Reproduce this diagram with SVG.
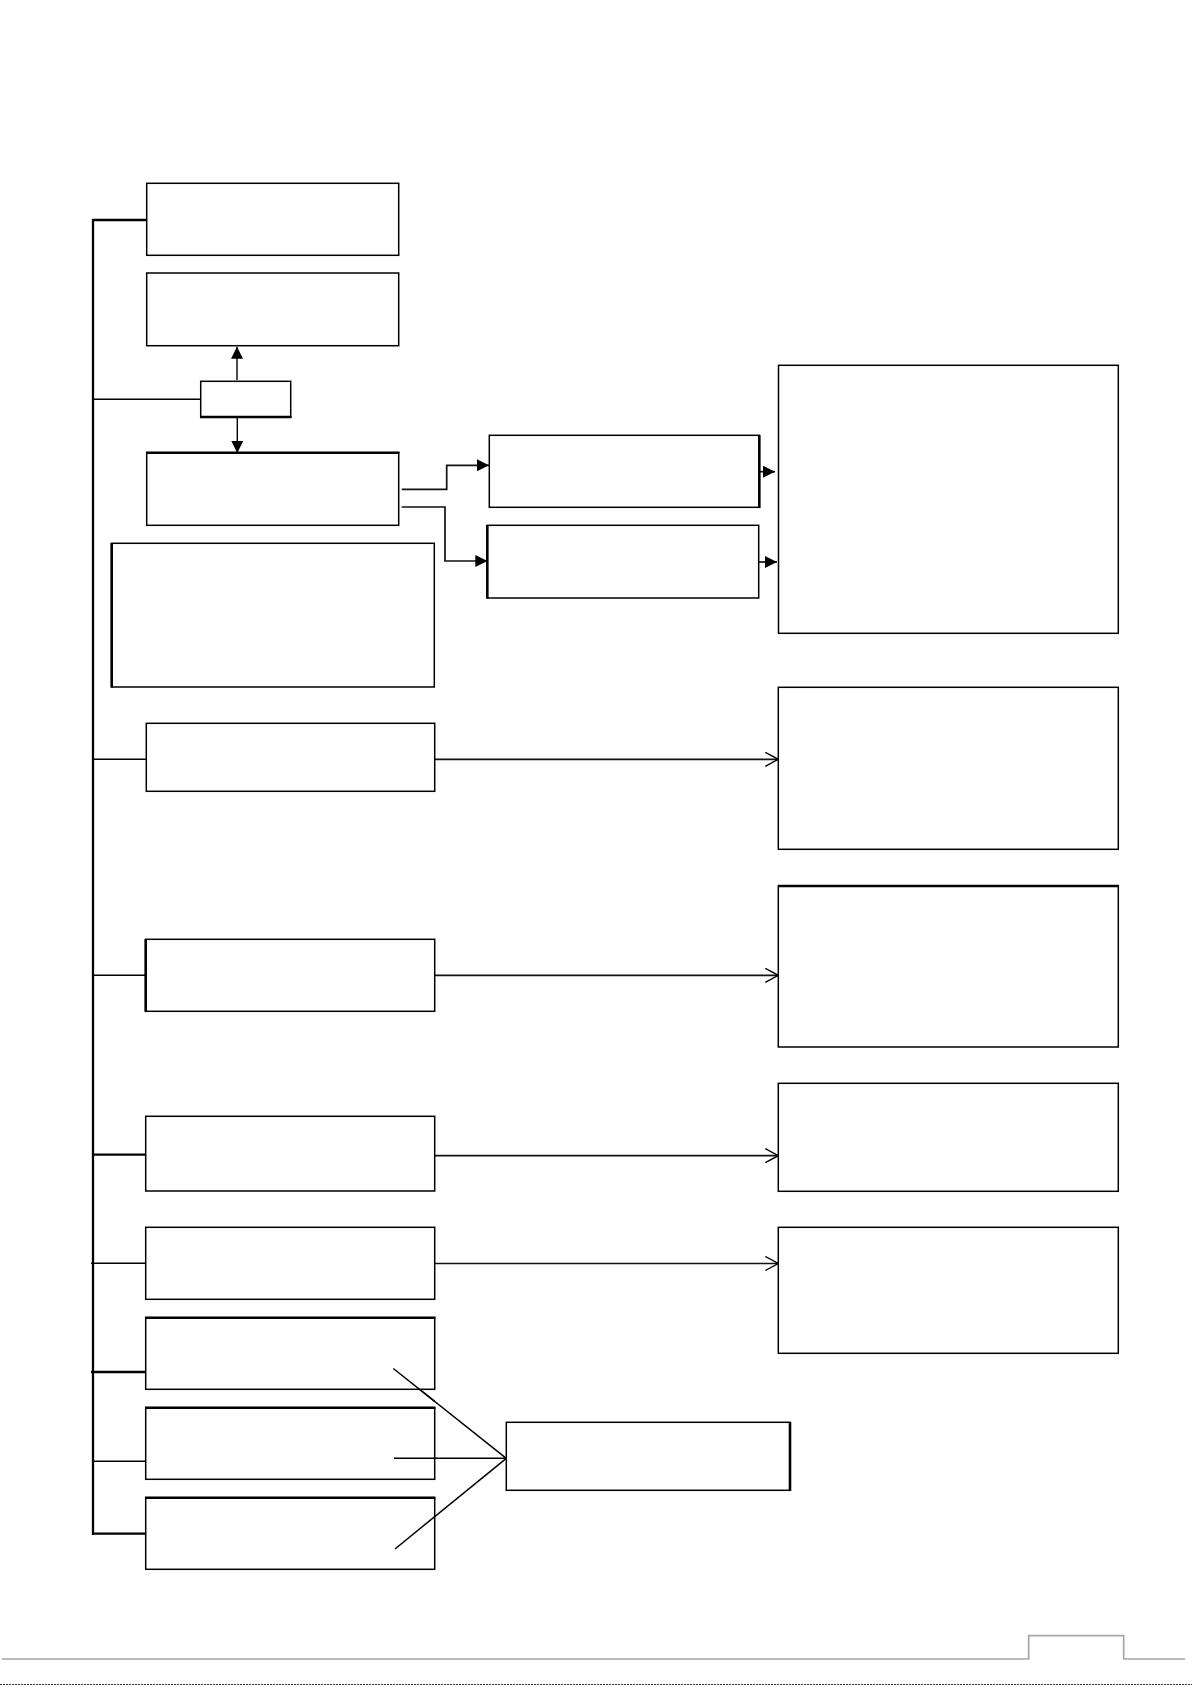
<svg xmlns="http://www.w3.org/2000/svg" width="1192" height="1685" viewBox="0 0 1192 1685">
<style>
.box{fill:#fff;stroke:#000;stroke-width:1.5}
.thick{stroke:#000;stroke-width:2.6;fill:none}
.br{stroke:#000;stroke-width:1.4;fill:none}
.brk{stroke:#000;stroke-width:2.3;fill:none}
.arr{stroke:#111;stroke-width:1.7;fill:none}
.fan{stroke:#000;stroke-width:1.5;fill:none}
.foot{stroke:#a6a6a6;stroke-width:1.7;fill:none}
</style>
<defs>
<marker id="fill" markerUnits="userSpaceOnUse" markerWidth="12" markerHeight="12" refX="12" refY="6" orient="auto">
<path d="M0,0 L12,6 L0,12 z" fill="#000"/>
</marker>
<marker id="open" markerUnits="userSpaceOnUse" markerWidth="16" markerHeight="16" refX="14" refY="8" orient="auto">
<path d="M1,1 L14,8 L1,15" fill="none" stroke="#000" stroke-width="1.4"/>
</marker>
</defs>
<rect width="1192" height="1685" fill="#fff"/>

<g id="connectors">
<line class="brk" x1="93" y1="219" x2="93" y2="1535"/>
<line class="brk" x1="93" y1="220" x2="147" y2="220"/>
<line class="br" x1="93" y1="399.3" x2="200.7" y2="399.3"/>
<line class="br" x1="93" y1="759.3" x2="146.3" y2="759.3"/>
<line class="br" x1="93" y1="975.3" x2="148" y2="975.3"/>
<line class="brk" x1="93" y1="1154.7" x2="148" y2="1154.7"/>
<line class="br" x1="91" y1="1263.3" x2="146" y2="1263.3"/>
<line class="brk" x1="91" y1="1372" x2="146" y2="1372"/>
<line class="br" x1="93" y1="1461.3" x2="146" y2="1461.3"/>
<line class="brk" x1="93" y1="1533.7" x2="146" y2="1533.7"/>

<line class="br" x1="237" y1="380" x2="237" y2="346.7" marker-end="url(#fill)"/>
<line class="br" x1="237.3" y1="417" x2="237.3" y2="453" marker-end="url(#fill)"/>
<path class="arr" d="M401.7,489.3 H446.7 V465.3 H489" marker-end="url(#fill)"/>
<path class="arr" d="M401.7,507 H445 V561 H487.3" marker-end="url(#fill)"/>
<line class="arr" x1="756" y1="471.7" x2="775" y2="471.7" marker-end="url(#fill)"/>
<line class="arr" x1="758.7" y1="562" x2="777" y2="562" marker-end="url(#fill)"/>

<line class="arr" x1="434.7" y1="759.3" x2="778.3" y2="759.3" marker-end="url(#open)"/>
<line class="arr" x1="434.7" y1="975.3" x2="778.3" y2="975.3" marker-end="url(#open)"/>
<line class="arr" x1="434.7" y1="1155.7" x2="778.3" y2="1155.7" marker-end="url(#open)"/>
<line class="arr" x1="434.7" y1="1263.5" x2="778.3" y2="1263.5" marker-end="url(#open)"/>

<line class="fan" x1="393.3" y1="1368.5" x2="506.3" y2="1458.3"/>
<line class="fan" x1="394" y1="1458.3" x2="506.3" y2="1458.3"/>
<line class="fan" x1="395" y1="1549" x2="506.3" y2="1458.3"/>
</g>

<g id="n1"><rect class="box" x="146.7" y="183.3" width="252" height="72"/></g>
<g id="n2"><rect class="box" x="146.7" y="273" width="252" height="72.7" stroke-width="2.4"/></g>
<g id="n3"><rect class="box" x="200.7" y="381.3" width="90" height="35.7"/><line class="thick" x1="200" y1="417" x2="291.5" y2="417"/></g>
<g id="n4"><rect class="box" x="146.7" y="452.7" width="252" height="72.6"/><line class="thick" x1="146" y1="452.7" x2="399.5" y2="452.7"/></g>
<g id="n5"><rect class="box" x="111.7" y="543.3" width="322.6" height="143.7"/><line class="thick" x1="111.7" y1="543" x2="111.7" y2="687.5"/></g>
<g id="n6"><rect class="box" x="489.3" y="435.3" width="270" height="72"/><line class="thick" x1="759.3" y1="435" x2="759.3" y2="508"/></g>
<g id="n7"><rect class="box" x="487.3" y="525.3" width="271.4" height="72.7"/><line class="thick" x1="487.3" y1="525" x2="487.3" y2="598.5"/></g>
<g id="n8"><rect class="box" x="778.5" y="365.3" width="339.8" height="268"/></g>
<g id="n9"><rect class="box" x="146.3" y="723.3" width="288.4" height="68"/></g>
<g id="n10"><rect class="box" x="778.3" y="687.3" width="340" height="162"/></g>
<g id="n11"><rect class="box" x="145.7" y="939.3" width="289" height="72"/><line class="thick" x1="145.7" y1="939" x2="145.7" y2="1011.8"/></g>
<g id="n12"><rect class="box" x="778.3" y="886" width="340" height="161"/><line class="thick" x1="778" y1="886" x2="1119" y2="886"/></g>
<g id="n13"><rect class="box" x="145.7" y="1116.3" width="289" height="74.7"/></g>
<g id="n14"><rect class="box" x="778.3" y="1083.3" width="340" height="108"/></g>
<g id="n15"><rect class="box" x="145.7" y="1227.3" width="289" height="72"/></g>
<g id="n16"><rect class="box" x="778.3" y="1227.3" width="340" height="126"/></g>
<g id="n17"><rect class="box" x="145.7" y="1317.7" width="289" height="71.6"/><line class="thick" x1="145" y1="1317.7" x2="435.4" y2="1317.7"/></g>
<g id="n18"><rect class="box" x="145.7" y="1407.7" width="289" height="71.6"/><line class="thick" x1="145" y1="1407.7" x2="435.4" y2="1407.7"/></g>
<g id="n19"><rect class="box" x="145.7" y="1497.7" width="289" height="71.6"/><line class="thick" x1="145" y1="1497.7" x2="435.4" y2="1497.7"/></g>
<g id="n20"><rect class="box" x="506.3" y="1422.3" width="283.7" height="68"/><line class="thick" x1="790" y1="1422" x2="790" y2="1491" stroke-width="3"/></g>

<line class="fan" x1="393.3" y1="1368.5" x2="434.7" y2="1401.4"/>
<line class="fan" x1="394" y1="1458.3" x2="434.7" y2="1458.3"/>
<line class="fan" x1="395" y1="1549" x2="434.7" y2="1516.6"/>

<g id="footer">
<path class="foot" d="M2,1659 H1028.7 V1635.7 H1123.7 V1659 H1185"/>
<line x1="0" y1="1684.5" x2="1192" y2="1684.5" stroke="#333" stroke-width="1" stroke-dasharray="2 1"/>
</g>
</svg>
